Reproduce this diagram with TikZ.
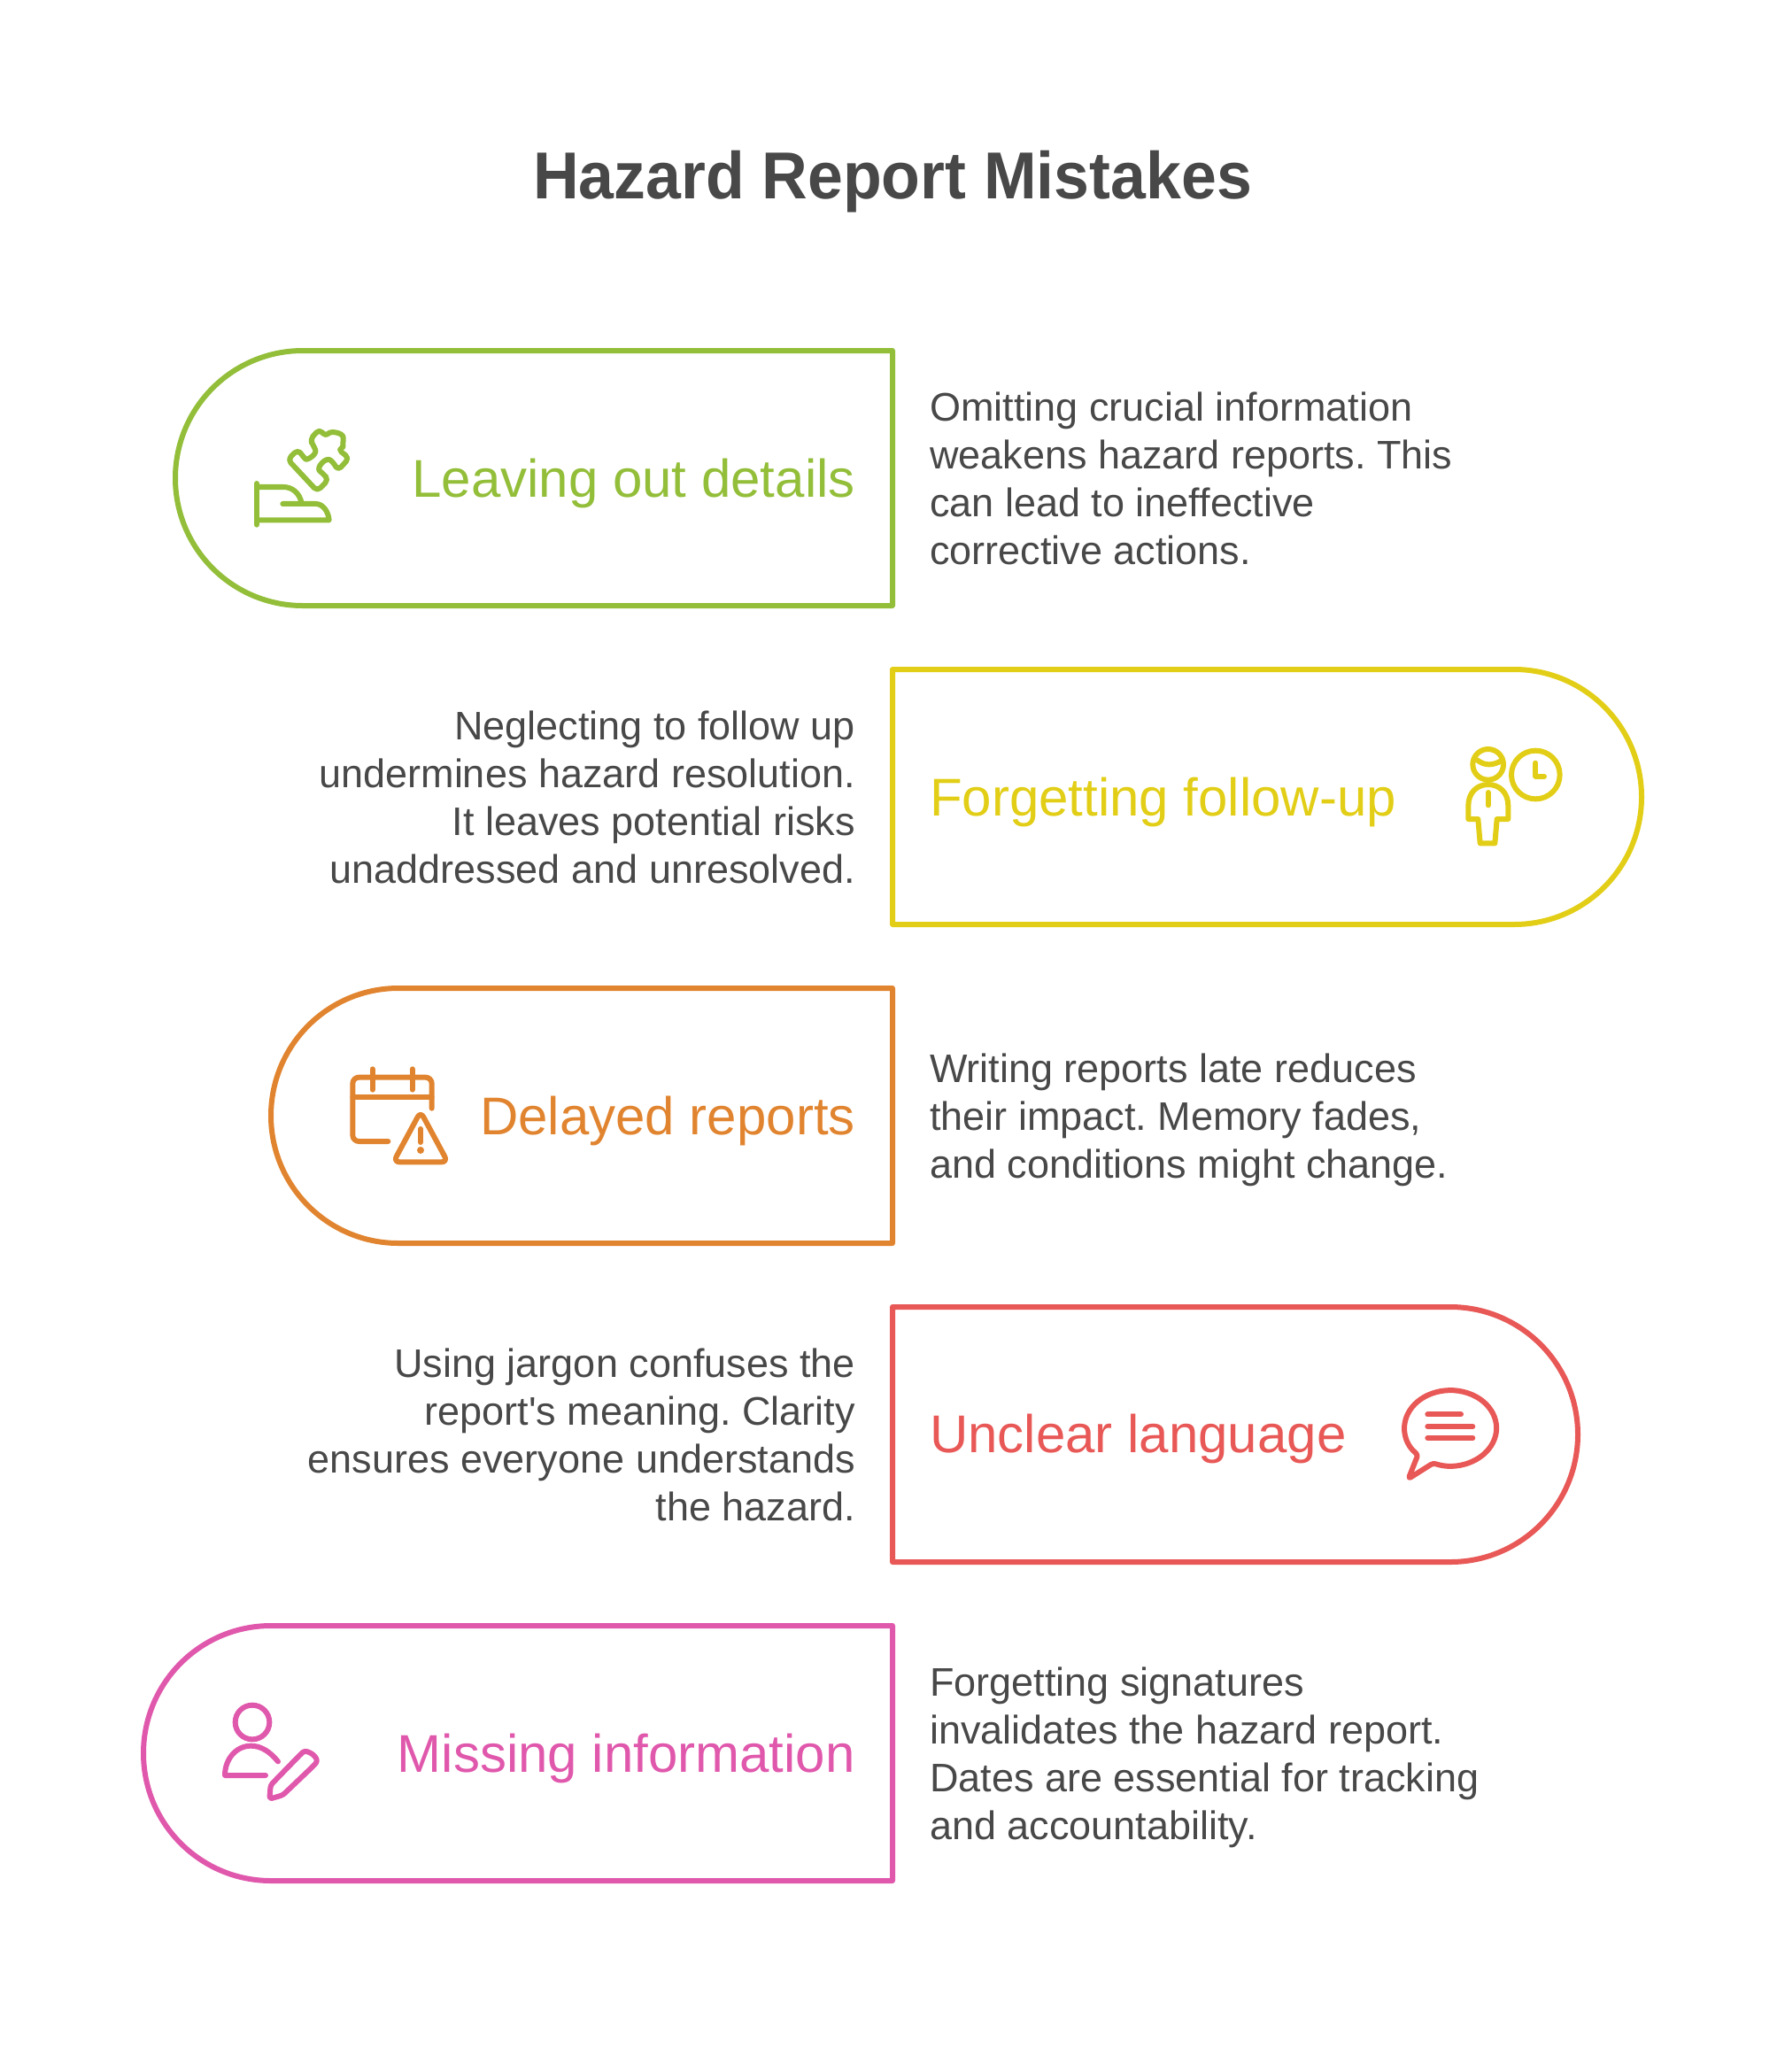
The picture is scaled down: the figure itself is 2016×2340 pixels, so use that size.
\documentclass[tikz,border=0pt]{standalone}
\usepackage{fontspec}
\setmainfont{Liberation Sans}[Ligatures=TeXOff]
\newfontfamily\titlefamily{Liberation Sans}[FakeStretch=0.955]
\usetikzlibrary{shapes.misc}
\definecolor{leafgreen}{HTML}{93BE39}
\definecolor{sunyellow}{HTML}{E2CE16}
\definecolor{clayorange}{HTML}{E1842F}
\definecolor{coralred}{HTML}{E85856}
\definecolor{rosepink}{HTML}{E058AC}
\definecolor{inkgrey}{HTML}{484848}
\tikzset{
	pill/.style={rounded rectangle, draw=#1, line width=6pt, line join=round, outer sep=0pt, inner sep=0pt, minimum height=288pt},
	headtext/.style={text=#1, font=\fontsize{60}{70}\selectfont, inner sep=0pt},
	desctext/.style={text=inkgrey, font=\fontsize{45}{54}\selectfont\frenchspacing, inner sep=0pt},
	titletext/.style={text=inkgrey, font=\titlefamily\fontsize{75}{80}\selectfont\bfseries, inner sep=0pt},
	glyph/.style={draw=#1, line width=6pt, line cap=round, line join=round, x=0.3333pt, y=-0.3333pt}
}
\begin{document}
\begin{tikzpicture}[x=1pt, y=-1pt]
		\useasboundingbox (0,0) rectangle (2016,2340);
		\node[titletext, anchor=base] (title) at (1008,224) {Hazard Report Mistakes};

		\node[pill=leafgreen, rounded rectangle east arc=none, minimum width=810pt] (leaving) at (603,540) {};
		\node[pill=sunyellow, rounded rectangle west arc=none, minimum width=846pt] (forgetting) at (1431,900) {};
		\node[pill=clayorange, rounded rectangle east arc=none, minimum width=702pt] (delayed) at (657,1260) {};
		\node[pill=coralred, rounded rectangle west arc=none, minimum width=774pt] (unclear) at (1395,1620) {};
		\node[pill=rosepink, rounded rectangle east arc=none, minimum width=846pt] (missing) at (585,1980) {};

		\node[headtext=leafgreen, anchor=east] (leavinghead) at (966,545.5) {Leaving out details};
		\node[headtext=sunyellow, anchor=west] (forgettinghead) at (1050,905.5) {Forgetting follow-up};
		\node[headtext=clayorange, anchor=east] (delayedhead) at (966,1265.5) {Delayed reports};
		\node[headtext=coralred, anchor=west] (unclearhead) at (1050,1625) {Unclear language};
		\node[headtext=rosepink, anchor=east] (missinghead) at (966,1985.5) {Missing information};

		\node[desctext, align=left, anchor=west] (leavingdesc) at (1050,540) {Omitting crucial information\\weakens hazard reports. This\\can lead to ineffective\\corrective actions.};
		\node[desctext, align=right, anchor=east] (forgettingdesc) at (966,900) {Neglecting to follow up\\undermines hazard resolution.\\It leaves potential risks\\unaddressed and unresolved.};
		\node[desctext, align=left, anchor=west] (delayeddesc) at (1050,1264.5) {Writing reports late reduces\\their impact. Memory fades,\\and conditions might change.};
		\node[desctext, align=right, anchor=east] (uncleardesc) at (966,1620) {Using jargon confuses the\\report's meaning. Clarity\\ensures everyone understands\\the hazard.};
		\node[desctext, align=left, anchor=west] (missingdesc) at (1050,1984.5) {Forgetting signatures\\invalidates the hazard report.\\Dates are essential for tracking\\and accountability.};

		\begin{scope}[shift={(270,470)}, glyph=leafgreen]
			\draw (60,228) -- (60,368);
			\draw (60,240) -- (150,240) .. controls (180,240) and (205,260) .. (212,295);
			\draw (148,297) -- (260,297) .. controls (285,297) and (303,325) .. (305,352) -- (60,352);
			\draw[rounded corners=5pt] (165,147) -- (200,113) -- (215,135) .. controls (230,150) and (265,130) .. (253,100) -- (240,80) -- (272,44) -- (295,70) .. controls (310,50) and (355,55) .. (352,90) .. controls (352,100) and (345,108) .. (335,112) -- (373,142) -- (335,184) -- (322,160) .. controls (295,135) and (260,175) .. (285,195) -- (303,215) -- (265,254) -- cycle;
		\end{scope}

		\begin{scope}[shift={(1640,830)}, glyph=sunyellow]
			\draw (122,100) circle (52);
			\draw (85,85) .. controls (110,105) and (140,105) .. (170,85);
			\draw (283,135) circle (82);
			\draw (283,95) -- (283,140) -- (312,140);
			\draw (55,285) -- (55,240) .. controls (55,195) and (85,168) .. (122,168) .. controls (160,168) and (190,195) .. (190,240) -- (190,285) -- (152,285) -- (145,367) -- (95,367) -- (88,285) -- cycle;
			\draw (122,195) -- (122,238);
		\end{scope}

		\begin{scope}[shift={(380,1190)}, glyph=clayorange]
			\draw[rounded corners=7pt] (175,297) -- (55,297) -- (55,80) -- (323,80) -- (323,185);
			\draw (55,148) -- (323,148);
			\foreach \x in {122,257}
			{
				\draw (\x,52) -- (\x,122);
			}
			\draw[rounded corners=7pt] (285,196) -- (193,367) -- (377,367) -- cycle;
			\draw (285,255) -- (285,300);
			\fill[clayorange] (285,327) circle (12);
		\end{scope}

		\begin{scope}[shift={(1570,1550)}, glyph=coralred]
			\draw[rounded corners=3pt] (146,307) arc[start angle=112, end angle=-225, x radius=156, y radius=128] -- (62,360) -- cycle;
			\draw (127,142) -- (240,142);
			\draw (127,183) -- (280,183);
			\draw (127,222) -- (280,222);
		\end{scope}

		\begin{scope}[shift={(240,1910)}, glyph=rosepink]
			\draw (135,105) circle (58);
			\draw (222,238) .. controls (195,205) and (165,185) .. (130,185) .. controls (80,185) and (42,230) .. (42,285) -- (180,285);
			\draw[rounded corners=3pt] (193,365) -- (197,318) -- (300,212) .. controls (320,195) and (365,225) .. (345,250) -- (238,352) -- cycle;
		\end{scope}
		\end{tikzpicture}
\end{document}
